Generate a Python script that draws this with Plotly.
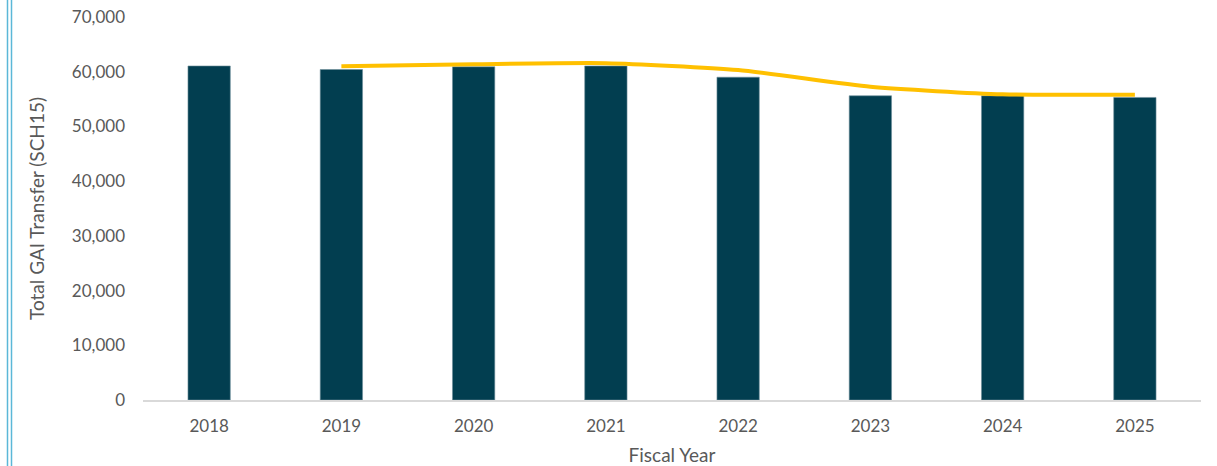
import plotly.graph_objects as go

years = ["2018", "2019", "2020", "2021", "2022", "2023", "2024", "2025"]
bar_values = [61050, 60400, 60900, 61050, 59000, 55600, 55600, 55300]
line_years = ["2019", "2020", "2021", "2022", "2023", "2024", "2025"]
line_values = [61000, 61350, 61550, 60300, 57250, 55870, 55800]
y_ticks = [0, 10000, 20000, 30000, 40000, 50000, 60000, 70000]

font_family = "Lato, Open Sans, sans-serif"
tick_color = "#595959"

fig = go.Figure()
fig.add_trace(go.Bar(
    x=years, y=bar_values,
    marker=dict(color="#023E50", line=dict(color="#6F8F9B", width=0.6)),
    showlegend=False,
))
fig.add_trace(go.Scatter(
    x=line_years, y=line_values, mode="lines",
    line=dict(color="#FFC000", width=4, shape="spline", smoothing=0.6),
    showlegend=False,
))

fig.update_layout(
    width=1217, height=466,
    margin=dict(l=143, r=16, t=17, b=66),
    paper_bgcolor="white", plot_bgcolor="white",
    bargap=0.68,
    font=dict(family=font_family, size=17, color=tick_color),
    xaxis=dict(
        type="category", automargin=False,
        showgrid=False, showline=True, linecolor="#D9D9D9", linewidth=1.5,
        ticks="", ticklabelstandoff=10,
        tickfont=dict(size=17, color=tick_color),
        title=dict(text="Fiscal Year", font=dict(size=19, color=tick_color), standoff=14),
    ),
    yaxis=dict(
        range=[0, 70000], automargin=False,
        tickvals=y_ticks,
        tickformat=",",
        showgrid=False, zeroline=False, showline=False,
        ticks="", ticklabelstandoff=17,
        tickfont=dict(size=17, color=tick_color),
        title=dict(text="Total GAI Transfer (SCH15)", font=dict(size=19, color=tick_color), standoff=22),
    ),
    shapes=[
        dict(type="line", xref="paper", yref="paper",
             x0=(7.5 - 143) / 1058, x1=(7.5 - 143) / 1058, y0=-0.2, y1=1.1,
             line=dict(color="#5BB8D8", width=1.5)),
        dict(type="line", xref="paper", yref="paper",
             x0=(11.5 - 143) / 1058, x1=(11.5 - 143) / 1058, y0=-0.2, y1=1.1,
             line=dict(color="#5BB8D8", width=1.5)),
    ],
)

fig.write_html("out.html")
